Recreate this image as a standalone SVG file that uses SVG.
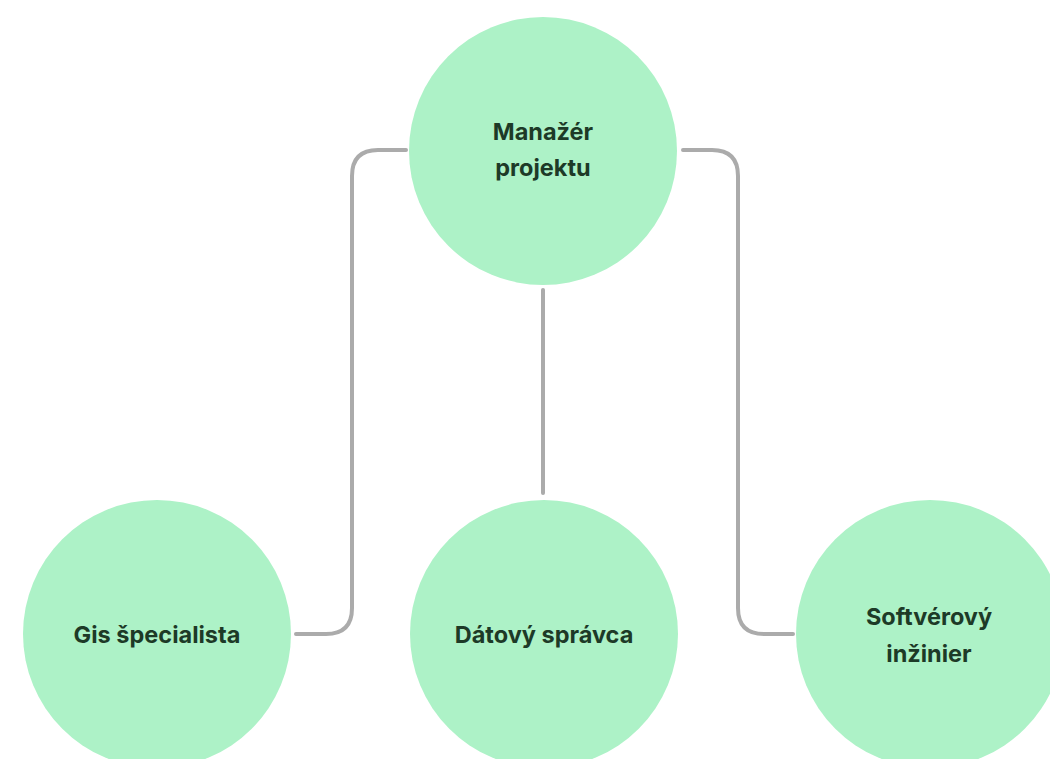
<svg xmlns="http://www.w3.org/2000/svg" width="1050" height="759" viewBox="0 0 1050 759">
  <style>
    .node { fill: #adf2c7; }
    .label { font-family: Inter, "Liberation Sans", Arial, sans-serif; font-weight: 700; font-size: 23.5px; fill: #1d3a27; text-anchor: middle; }
    .link { fill: none; stroke: #ababab; stroke-width: 4; stroke-linecap: round; stroke-linejoin: round; }
  </style>
  <rect width="1050" height="759" fill="#ffffff"/>

  <!-- org-chart links -->
  <g id="connectors">
    <path class="link" d="M406 150 H378 Q352 150 352 176 V608 Q352 634 326 634 H296"/>
    <path class="link" d="M543 290 V493"/>
    <path class="link" d="M683 150 H712 Q738 150 738 176 V608 Q738 634 764 634 H793"/>
  </g>

  <g id="manager">
    <circle class="node" cx="543" cy="151" r="134"/>
    <text class="label" x="543" y="140">Manažér</text>
    <text class="label" x="543" y="176">projektu</text>
  </g>

  <g id="gis-specialist">
    <circle class="node" cx="157" cy="634" r="134"/>
    <text class="label" x="157" y="643">Gis špecialista</text>
  </g>

  <g id="data-admin">
    <circle class="node" cx="544" cy="634" r="134"/>
    <text class="label" x="544" y="643">Dátový správca</text>
  </g>

  <g id="software-engineer">
    <circle class="node" cx="930" cy="634" r="134"/>
    <text class="label" x="929" y="625">Softvérový</text>
    <text class="label" x="929" y="662">inžinier</text>
  </g>
</svg>
